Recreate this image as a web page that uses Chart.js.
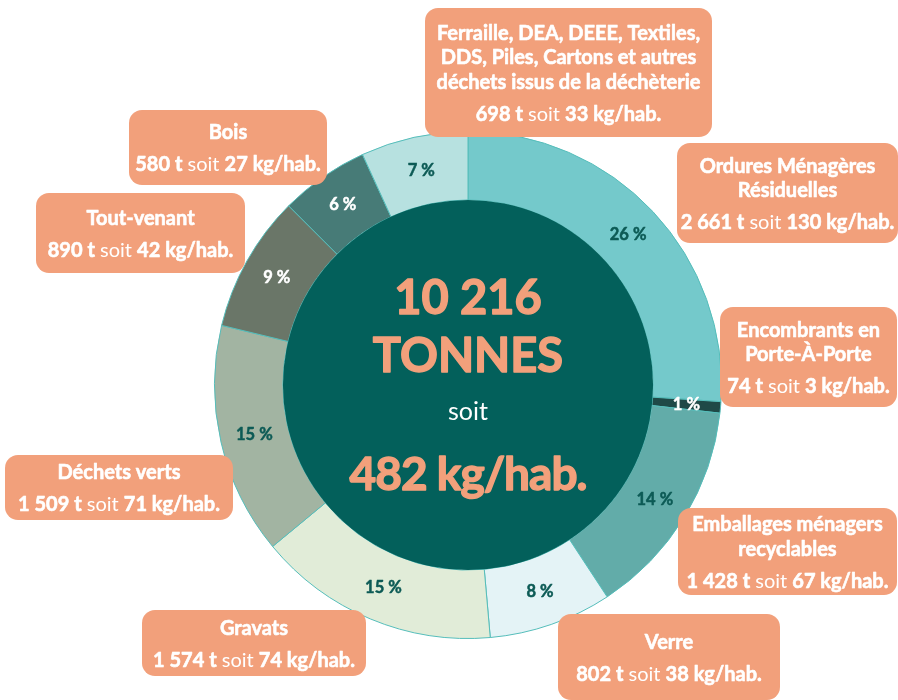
<!DOCTYPE html>
<html>
<head>
<meta charset="utf-8">
<script src="https://cdn.jsdelivr.net/npm/chart.js@4.4.1/dist/chart.umd.min.js"></script>
<style>
  body { margin: 0; background: #fff; }
  #wrap { width: 898px; height: 700px; }
</style>
</head>
<body>
<div id="wrap"><canvas id="grafico" width="898" height="700"></canvas></div>
<script>
// donnees (sens horaire depuis midi)
const categories = ['Ordures Ménagères Résiduelles', 'Encombrants en Porte-À-Porte', 'Emballages ménagers recyclables',
    'Verre', 'Gravats', 'Déchets verts', 'Tout-venant', 'Bois',
    'Ferraille, DEA, DEEE, Textiles, DDS, Piles, Cartons et autres déchets issus de la déchèterie']
const titleLines = [
    ['Ordures Ménagères', 'Résiduelles'],
    ['Encombrants en', 'Porte-À-Porte'],
    ['Emballages ménagers', 'recyclables'],
    ['Verre'],
    ['Gravats'],
    ['Déchets verts'],
    ['Tout-venant'],
    ['Bois'],
    ['Ferraille, DEA, DEEE, Textiles,', 'DDS, Piles, Cartons et autres', 'déchets issus de la déchèterie']
]
const tonnes = [2661, 74, 1428, 802, 1574, 1509, 890, 580, 698]
const kgHab = [130, 3, 67, 38, 74, 71, 42, 27, 33]
const totalTonnes = 10216
const totalKgHab = 482

// styles
const sliceColors = ['#74c9cb', '#1f4947', '#62aca9', '#e4f3f6', '#e1ecd8', '#a2b4a2', '#6a7668', '#477b77', '#b7e1e0']
const pctColors = ['#0c5a55', '#ffffff', '#0c5a55', '#0c5a55', '#0c5a55', '#0c5a55', '#ffffff', '#ffffff', '#0c5a55']
const ORANGE = '#f2a07b'
const FONT = 'Lato, "Open Sans", sans-serif'

// boites des etiquettes [x, y, w, h]
const boxes = [
    [677, 143, 221, 100],
    [720, 307, 177, 100],
    [678, 508, 219, 87],
    [558, 614, 222, 86],
    [142, 610, 224, 66],
    [5, 455, 228, 65],
    [36, 193, 209, 80],
    [129, 110, 198, 75],
    [425, 8, 287, 129]
]

function fmt(n) {
    return String(n).replace(/\B(?=(\d{3})+(?!\d))/g, ' ')
}

function roundRect(ctx, x, y, w, h, r) {
    ctx.beginPath()
    ctx.moveTo(x + r, y)
    ctx.arcTo(x + w, y, x + w, y + h, r)
    ctx.arcTo(x + w, y + h, x, y + h, r)
    ctx.arcTo(x, y + h, x, y, r)
    ctx.arcTo(x, y, x + w, y, r)
    ctx.closePath()
}

// texte gras un peu epaissi
function heavy(ctx, txt, x, y, lw) {
    ctx.lineWidth = lw
    ctx.lineJoin = 'round'
    ctx.strokeStyle = ctx.fillStyle
    ctx.strokeText(txt, x, y)
    ctx.fillText(txt, x, y)
}

// texte mixte gras / normal centre sur cx
function richText(ctx, parts, cx, cy, size) {
    let widths = parts.map(function (p) {
        ctx.font = (p.b ? 'bold ' : '') + size + 'px ' + FONT
        return ctx.measureText(p.t).width
    })
    let total = widths.reduce(function (a, b) { return a + b }, 0)
    let x = cx - total / 2
    ctx.textAlign = 'left'
    parts.forEach(function (p, i) {
        ctx.font = (p.b ? 'bold ' : '') + size + 'px ' + FONT
        if (p.b) heavy(ctx, p.t, x, cy, 0.6)
        else ctx.fillText(p.t, x, cy)
        x += widths[i]
    })
}

const decor = {
    id: 'decor',
    afterDatasetsDraw(chart) {
        const ctx = chart.ctx
        const meta = chart.getDatasetMeta(0)
        const arc0 = meta.data[0]
        const cx = arc0.x, cy = arc0.y
        const rIn = arc0.innerRadius, rOut = arc0.outerRadius

        // disque central
        ctx.save()
        ctx.beginPath()
        ctx.arc(cx, cy, rIn, 0, Math.PI * 2)
        ctx.fillStyle = '#03605b'
        ctx.fill()

        ctx.textAlign = 'center'
        ctx.textBaseline = 'middle'
        ctx.fillStyle = ORANGE
        ctx.font = 'bold 47px ' + FONT
        heavy(ctx, fmt(totalTonnes), cx, cy - 86, 1.4)
        heavy(ctx, 'TONNES', cx, cy - 28, 1.4)
        ctx.fillStyle = '#ffffff'
        ctx.font = '25px ' + FONT
        ctx.fillText('soit', cx, cy + 27)
        ctx.fillStyle = ORANGE
        ctx.font = 'bold 46px ' + FONT
        ctx.letterSpacing = '-1px'
        heavy(ctx, totalKgHab + ' kg/hab.', cx, cy + 90, 1.4)
        ctx.letterSpacing = '0px'

        // pourcentages
        const total = tonnes.reduce(function (a, b) { return a + b }, 0)
        ctx.font = 'bold 16.5px ' + FONT
        meta.data.forEach(function (arc, i) {
            let a = (arc.startAngle + arc.endAngle) / 2
            let r = (rIn + rOut) / 2
            let pct = Math.round(tonnes[i] / total * 100)
            ctx.fillStyle = pctColors[i]
            heavy(ctx, pct + ' %', cx + r * Math.cos(a), cy + r * Math.sin(a), 0.5)
        })

        // etiquettes
        boxes.forEach(function (b, i) {
            ctx.fillStyle = ORANGE
            roundRect(ctx, b[0], b[1], b[2], b[3], 13)
            ctx.fill()
            let lines = titleLines[i]
            let span = (lines.length - 1) * 24.8 + 32
            let y = b[1] + b[3] / 2 + 1.5 - span / 2
            let mx = b[0] + b[2] / 2
            ctx.fillStyle = '#ffffff'
            ctx.textAlign = 'center'
            ctx.font = 'bold 20px ' + FONT
            lines.forEach(function (l, k) {
                heavy(ctx, l, mx, y + k * 24.8, 0.6)
            })
            richText(ctx, [
                { t: fmt(tonnes[i]) + ' t', b: true },
                { t: ' soit ', b: false },
                { t: kgHab[i] + ' kg/hab.', b: true }
            ], mx, y + span, 20)
            ctx.textAlign = 'center'
        })
        ctx.restore()
    }
}

let canvas = document.getElementById('grafico').getContext('2d')
var chart = new Chart(canvas, {
    type: 'doughnut',
    data: {
        labels: categories,
        datasets: [{
            data: tonnes,
            backgroundColor: sliceColors,
            borderColor: '#55bdba',
            borderWidth: 1
        }]
    },
    options: {
        responsive: false,
        animation: false,
        cutout: '73%',
        layout: { padding: { left: 214, right: 176, top: 131, bottom: 61 } },
        plugins: {
            legend: { display: false },
            tooltip: { enabled: false }
        }
    },
    plugins: [decor]
})
</script>
</body>
</html>
